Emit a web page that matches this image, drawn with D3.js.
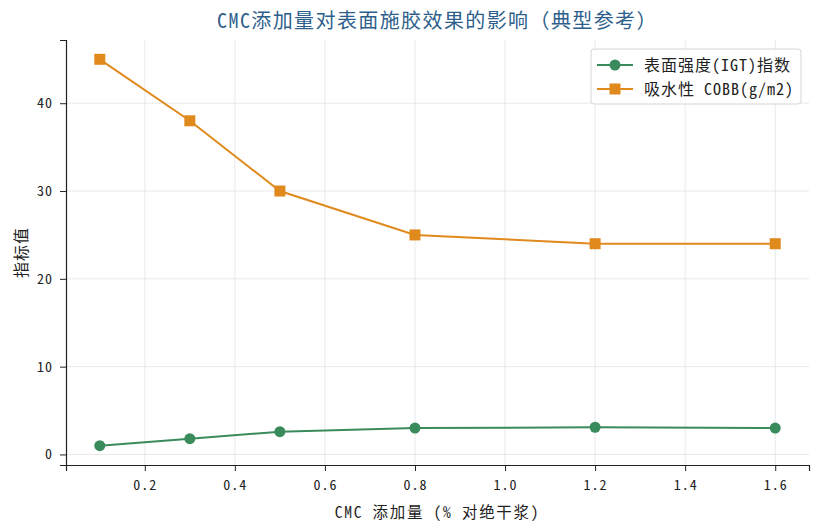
<!DOCTYPE html>
<html lang="zh">
<head>
<meta charset="UTF-8"/>
<title>CMC添加量对表面施胶效果的影响</title>
<script src="https://d3js.org/d3.v7.min.js"></script>
<style>
  body { margin: 0; background: #fff; }
  text { font-family: "Noto Sans Mono CJK SC", "Noto Sans CJK SC", sans-serif; }
</style>
</head>
<body>
<script>
  // data
  var cmc = [0.1, 0.3, 0.5, 0.8, 1.2, 1.6];
  var igt = [1.0, 1.8, 2.6, 3.0, 3.1, 3.0];
  var cobb = [45, 38, 30, 25, 24, 24];
  var xTicks = [0.2, 0.4, 0.6, 0.8, 1.0, 1.2, 1.4, 1.6];
  var yTicks = [0, 10, 20, 30, 40];
  var seriesNames = ["表面强度(IGT)指数", "吸水性 COBB(g/m2)"];

  var w = 821, h = 529;
  var padL = 66, padR = 809, padT = 40, padB = 465;

  var svg = d3.select("body").append("svg")
    .attr("width", w)
    .attr("height", h);

  var xScale = d3.scaleLinear().domain([0.025, 1.675]).range([padL, padR]);
  var yScale = d3.scaleLinear().domain([-1.2, 47.2]).range([padB, padT]);

  // grid
  svg.append("g").selectAll("line").data(xTicks).enter().append("line")
    .attr("x1", function(d) { return xScale(d); })
    .attr("x2", function(d) { return xScale(d); })
    .attr("y1", padT).attr("y2", padB)
    .attr("stroke", "#e3e3e3").attr("stroke-width", 0.8);
  svg.append("g").selectAll("line").data(yTicks).enter().append("line")
    .attr("y1", function(d) { return yScale(d); })
    .attr("y2", function(d) { return yScale(d); })
    .attr("x1", padL).attr("x2", padR)
    .attr("stroke", "#e3e3e3").attr("stroke-width", 0.8);

  // axes
  var xAxis = svg.append("g")
    .attr("transform", "translate(0," + padB + ")")
    .call(d3.axisBottom(xScale).tickValues(xTicks).tickFormat(d3.format(".1f")).tickSizeOuter(0).tickSize(6).tickPadding(9));
  var yAxis = svg.append("g")
    .attr("transform", "translate(" + padL + ",0)")
    .call(d3.axisLeft(yScale).tickValues(yTicks).tickSizeOuter(0).tickSize(6).tickPadding(7));
  [xAxis, yAxis].forEach(function(a) {
    a.select(".domain").attr("stroke", "#222").attr("stroke-width", 1.2);
    a.selectAll(".tick line").attr("stroke", "#222");
    a.selectAll(".tick text").attr("font-size", 14).attr("fill", "#222")
      .attr("letter-spacing", 1)
      .style("font-family", '"Noto Sans Mono CJK SC", "Noto Sans CJK SC", sans-serif');
  });

  // lines
  var line = d3.line()
    .x(function(d) { return xScale(d[0]); })
    .y(function(d) { return yScale(d[1]); });

  var igtPts = cmc.map(function(c, i) { return [c, igt[i]]; });
  var cobbPts = cmc.map(function(c, i) { return [c, cobb[i]]; });
  var green = "#3a8b5c", orange = "#e08a1e";

  svg.append("path").datum(igtPts).attr("d", line)
    .attr("fill", "none").attr("stroke", green).attr("stroke-width", 2);
  svg.selectAll(".dot").data(igtPts).enter().append("circle")
    .attr("cx", function(d) { return xScale(d[0]); })
    .attr("cy", function(d) { return yScale(d[1]); })
    .attr("r", 5.5).attr("fill", green);

  svg.append("path").datum(cobbPts).attr("d", line)
    .attr("fill", "none").attr("stroke", orange).attr("stroke-width", 2);
  svg.selectAll(".sq").data(cobbPts).enter().append("rect")
    .attr("x", function(d) { return xScale(d[0]) - 5.5; })
    .attr("y", function(d) { return yScale(d[1]) - 5.5; })
    .attr("width", 11).attr("height", 11).attr("fill", orange);

  // title and labels
  svg.append("text").text("CMC添加量对表面施胶效果的影响（典型参考）")
    .attr("x", (padL + padR) / 2).attr("y", 28)
    .attr("text-anchor", "middle").attr("font-size", 20).attr("letter-spacing", 1.4)
    .attr("fill", "#2e5f8c");
  svg.append("text").text("CMC 添加量 (% 对绝干浆)")
    .attr("x", (padL + padR) / 2).attr("y", 518)
    .attr("text-anchor", "middle").attr("font-size", 15.5).attr("letter-spacing", 1.7)
    .attr("fill", "#222");
  svg.append("text").text("指标值")
    .attr("transform", "translate(27," + ((padT + padB) / 2) + ") rotate(-90)")
    .attr("text-anchor", "middle").attr("font-size", 16).attr("letter-spacing", 1)
    .attr("fill", "#222");

  // legend
  var lg = svg.append("g").attr("transform", "translate(591,49)");
  lg.append("rect").attr("width", 210).attr("height", 55).attr("rx", 3)
    .attr("fill", "#fff").attr("fill-opacity", 0.85)
    .attr("stroke", "#d6d6d6");
  var colors = [green, orange];
  seriesNames.forEach(function(name, i) {
    var y = 16 + i * 24;
    lg.append("line").attr("x1", 6).attr("x2", 42).attr("y1", y).attr("y2", y)
      .attr("stroke", colors[i]).attr("stroke-width", 2);
    if (i === 0) {
      lg.append("circle").attr("cx", 24).attr("cy", y).attr("r", 5.5).attr("fill", colors[i]);
    } else {
      lg.append("rect").attr("x", 18.5).attr("y", y - 5.5).attr("width", 11).attr("height", 11).attr("fill", colors[i]);
    }
    lg.append("text").text(name).attr("x", 53).attr("y", y + 6)
      .attr("font-size", 16).attr("letter-spacing", 1).attr("fill", "#222");
  });
</script>
</body>
</html>
